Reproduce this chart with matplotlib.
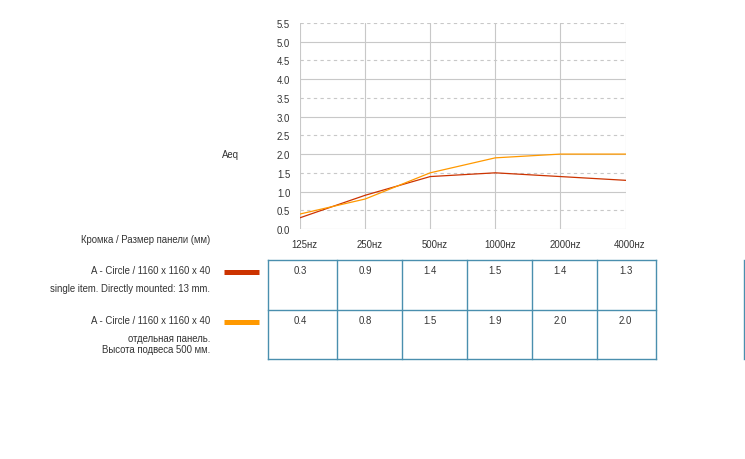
import numpy as np
import matplotlib.pyplot as plt
from matplotlib.lines import Line2D
from matplotlib.transforms import blended_transform_factory

plt.rcParams['font.family'] = ['Liberation Sans', 'DejaVu Sans']

# data
freqs = ['125', '250', '500', '1000', '2000', '4000']
single_item = [0.3, 0.9, 1.4, 1.5, 1.4, 1.3]
suspended = [0.4, 0.8, 1.5, 1.9, 2.0, 2.0]
yticks = [0.0, 0.5, 1.0, 1.5, 2.0, 2.5, 3.0, 3.5, 4.0, 4.5, 5.0, 5.5]

red = '#cc3300'
orange = '#ff9900'
grid_c = '#c8c8c8'
table_c = '#4a8fae'
txt_c = '#333333'
fs = 6.9

W, H = 745, 460
fig = plt.figure(figsize=(W / 100, H / 100), dpi=100)


def fx(px):
    return px / W


def fy(py):
    return 1 - py / H


ax = fig.add_axes([fx(300), fy(230), fx(625.5) - fx(300), fy(24) - fy(230)])
x = np.arange(len(freqs))
ax.set_xlim(0, len(freqs) - 1)
ax.set_ylim(0, 5.5)

# grid: solid at whole numbers, dashed at halves
for v in yticks:
    ls = '-' if v == int(v) else (0, (3, 3))
    ax.axhline(v, color=grid_c, lw=0.8, ls=ls, zorder=0)
for xi in x:
    ax.axvline(xi, color=grid_c, lw=0.8, zorder=0)
for s in ax.spines.values():
    s.set_visible(False)

ax.plot(x, single_item, color=red, lw=0.9)
ax.plot(x, suspended, color=orange, lw=0.9)

ax.set_yticks(yticks)
ax.set_yticklabels([f'{v:.1f}' for v in yticks], fontsize=fs, color=txt_c)
ax.tick_params(axis='y', length=0, pad=7)
ax.set_xticks([])

# x labels and table values positioned by category
tr = blended_transform_factory(ax.transData, fig.transFigure)
for xi, f in zip(x, freqs):
    fig.text(xi + 0.07, fy(245), f + 'нz', transform=tr, ha='center', va='center',
             fontsize=fs, color=txt_c)
for xi, a, b in zip(x, single_item, suspended):
    fig.text(xi, fy(271.5), f'{a:.1f}', transform=tr, ha='center', va='center',
             fontsize=fs, color=txt_c)
    fig.text(xi, fy(321.5), f'{b:.1f}', transform=tr, ha='center', va='center',
             fontsize=fs, color=txt_c)

# table grid
cols = [268, 337, 402, 467, 532, 597, 655.5]
rows = [260.5, 310.5, 360]
for c in cols:
    fig.add_artist(Line2D([fx(c), fx(c)], [fy(rows[0]), fy(rows[-1])], color=table_c, lw=1))
for r in rows:
    fig.add_artist(Line2D([fx(cols[0]), fx(cols[-1])], [fy(r), fy(r)], color=table_c, lw=1))
fig.add_artist(Line2D([fx(744), fx(744)], [fy(261), fy(360)], color=table_c, lw=1))

# legend swatches
fig.add_artist(Line2D([fx(224), fx(259)], [fy(273.3), fy(273.3)], color=red, lw=3.6,
                      solid_capstyle='butt'))
fig.add_artist(Line2D([fx(224), fx(259)], [fy(323.3), fy(323.3)], color=orange, lw=3.6,
                      solid_capstyle='butt'))

# left labels
fig.text(fx(230), fy(155), 'Aeq', ha='center', va='center', fontsize=fs, color=txt_c)
labels = [
    (240, 'Кромка / Размер панели (мм)'),
    (271.5, 'A - Circle / 1160 x 1160 x 40'),
    (288.5, 'single item. Directly mounted: 13 mm.'),
    (321.5, 'A - Circle / 1160 x 1160 x 40'),
    (339, 'отдельная панель.'),
    (350.5, 'Высота подвеса 500 мм.'),
]
for py, t in labels:
    fig.text(fx(210), fy(py), t, ha='right', va='center', fontsize=fs, color=txt_c)

fig.savefig('out.png', dpi=100, facecolor='white')
